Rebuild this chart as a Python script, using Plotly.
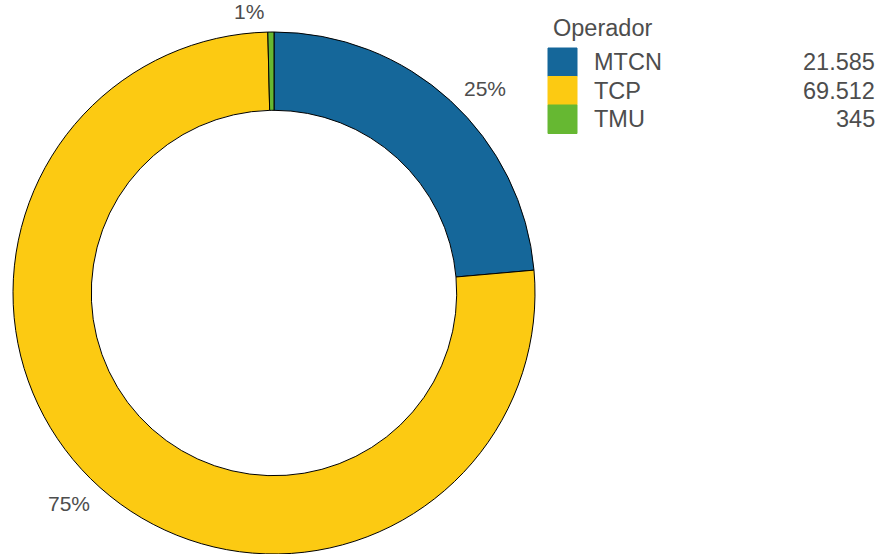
import math
import plotly.graph_objects as go

# data
operadores = ["MTCN", "TCP", "TMU"]
viajes = [21585, 69512, 345]
pct = [25, 75, 1]
colores = ["#15679A", "#FCCA12", "#66B832"]

W, H = 881, 554
TOP = 32
CX, CY = 274, 293   # pie centre in pixels
R_LAB = 268         # label anchor radius in pixels


def px(x):
    return x / W


def py(y):
    return (H - y) / (H - TOP)


def fmt_miles(n):
    return f"{n:,}".replace(",", ".")


fig = go.Figure()

fig.add_trace(go.Pie(
    labels=operadores,
    values=viajes,
    textinfo="none",
    hole=0.70,
    sort=False,
    direction="clockwise",
    rotation=0,
    marker=dict(colors=colores, line=dict(color="black", width=1)),
    domain=dict(x=[13 / W, 535 / W], y=[0, 1]),
    showlegend=False,
    hoverinfo="label+value+percent",
))

annotations = []

# percentage labels just outside the ring, at the middle of each slice
total = sum(pct)
acc = 0
for p in pct:
    mid = (acc + p / 2) / total * 2 * math.pi
    acc += p
    s, c = math.sin(mid), math.cos(mid)
    xa = "left" if s > 0 else "right"
    ya = "bottom" if c > 0 else "top"
    annotations.append(dict(
        x=px(CX + R_LAB * s), y=py(CY - R_LAB * c), xref="paper", yref="paper",
        text=f"{p}%", showarrow=False, xanchor=xa, yanchor=ya,
        font=dict(size=21, color="#4d4d4d"),
    ))

# custom legend
shapes = []
annotations.append(dict(
    x=px(551), y=py(28), xref="paper", yref="paper",
    text="Operador", showarrow=False, xanchor="left", yanchor="middle",
    font=dict(size=23.5, color="#4d4d4d"),
))
for i, (op, v, c) in enumerate(zip(operadores, viajes, colores)):
    y0 = 48 + i * 28.5
    y1 = y0 + 28.5
    shapes.append(dict(
        type="rect", xref="paper", yref="paper",
        x0=px(548), x1=px(577), y0=py(y1), y1=py(y0),
        fillcolor=c, line=dict(color=c, width=1),
    ))
    yc = (y0 + y1) / 2
    annotations.append(dict(
        x=px(592), y=py(yc), xref="paper", yref="paper",
        text=op, showarrow=False, xanchor="left", yanchor="middle",
        font=dict(size=23.5, color="#4d4d4d"),
    ))
    annotations.append(dict(
        x=px(877), y=py(yc), xref="paper", yref="paper",
        text=fmt_miles(v), showarrow=False, xanchor="right", yanchor="middle",
        font=dict(size=23.5, color="#4d4d4d"),
    ))

fig.update_layout(
    width=W, height=H,
    margin=dict(l=0, r=0, t=TOP, b=0),
    paper_bgcolor="white",
    plot_bgcolor="white",
    font=dict(family="Liberation Sans, Arial", color="#4d4d4d"),
    shapes=shapes,
    annotations=annotations,
)

fig.write_html("out.html", config={"displayModeBar": False},
               post_script="document.body.style.margin='0';")
